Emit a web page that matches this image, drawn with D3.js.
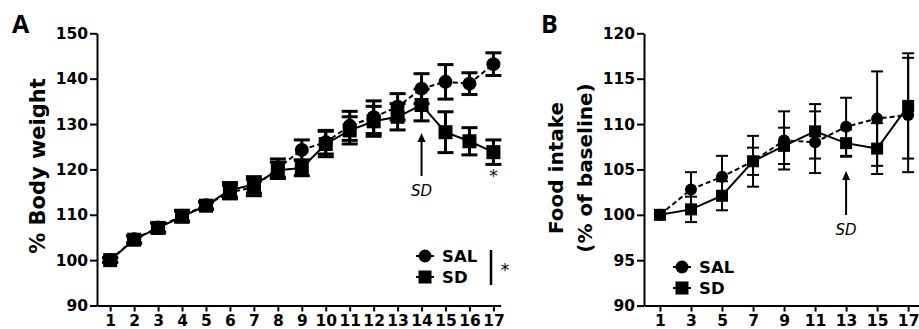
<!DOCTYPE html>
<html>
<head>
<meta charset="utf-8">
<script src="https://cdn.jsdelivr.net/npm/d3@7"></script>
<style>
  body { margin: 0; background: #fff; }
  svg { display: block; }
  .axis text { font-family: "DejaVu Sans", sans-serif; font-weight: bold; font-size: 15.5px; fill: #000; }
  .axis path, .axis line { stroke: #000; stroke-width: 2px; }
</style>
</head>
<body>
<svg width="919" height="329"></svg>
<script>
// panel A: % body weight, days 1..17
const daysA = [1, 2, 3, 4, 5, 6, 7, 8, 9, 10, 11, 12, 13, 14, 15, 16, 17];
const salA = [100, 104.6, 107.2, 109.8, 112.1, 115.0, 116.0, 120.3, 124.3, 126.0, 129.6, 131.5, 133.8, 137.8, 139.3, 138.9, 143.2];
const salAErr = [0.5, 0.8, 1.0, 1.2, 0.8, 1.5, 1.8, 2.0, 2.2, 2.6, 3.2, 3.6, 2.9, 3.3, 3.8, 2.4, 2.5];
const sdA = [100, 104.5, 107.1, 109.6, 112.0, 115.5, 116.6, 119.8, 120.3, 125.6, 128.6, 130.6, 131.6, 134.2, 128.2, 126.2, 123.8];
const sdAErr = [0.5, 0.8, 1.1, 1.2, 0.8, 1.6, 1.8, 1.8, 1.7, 2.8, 3.0, 3.3, 2.9, 3.5, 4.5, 3.0, 2.7];
const yTicksA = [90, 100, 110, 120, 130, 140, 150];

// panel B: food intake (% of baseline), odd days
const daysB = [1, 3, 5, 7, 9, 11, 13, 15, 17];
const salB = [100, 102.8, 104.2, 105.9, 108.2, 108.0, 109.7, 110.6, 111.0];
const salBErr = [0, 1.9, 2.3, 1.5, 3.2, 3.4, 3.2, 5.2, 6.3];
const sdB = [100, 100.6, 102.1, 105.9, 107.6, 109.2, 107.9, 107.3, 112.0];
const sdBErr = [0, 1.4, 1.6, 2.8, 2.0, 3.0, 1.5, 2.8, 5.8];
const yTicksB = [90, 95, 100, 105, 110, 115, 120];

const svg = d3.select('svg');
const font = '"DejaVu Sans", sans-serif';

function panel(opt) {
  const g = svg.append('g');
  const x = d3.scaleLinear().domain(opt.xDomain).range(opt.xRange);
  const y = d3.scaleLinear().domain(opt.yDomain).range(opt.yRange);

  g.append('g').attr('class', 'axis')
    .attr('transform', 'translate(0,' + opt.yRange[0] + ')')
    .call(d3.axisBottom(x).tickValues(opt.days).tickSize(6).tickSizeOuter(0).tickPadding(3).tickFormat(d3.format('d')));
  g.append('g').attr('class', 'axis')
    .attr('transform', 'translate(' + opt.xRange[0] + ',0)')
    .call(d3.axisLeft(y).tickValues(opt.yTicks).tickSize(7).tickSizeOuter(0).tickPadding(2));

  const series = [
    { v: opt.sal, e: opt.salErr, dash: '5,3', shape: 'circle' },
    { v: opt.sd, e: opt.sdErr, dash: null, shape: 'square' },
  ];

  // error bars first
  series.forEach(function(s) {
    const eb = g.append('g').attr('stroke', '#000').attr('stroke-width', opt.ebw);
    opt.days.forEach(function(d, i) {
      if (!s.e[i]) return;
      const cx = x(d), top = y(s.v[i] + s.e[i]), bot = y(s.v[i] - s.e[i]);
      eb.append('line').attr('x1', cx).attr('x2', cx).attr('y1', top).attr('y2', bot);
      eb.append('line').attr('x1', cx - opt.cap).attr('x2', cx + opt.cap).attr('y1', top).attr('y2', top);
      eb.append('line').attr('x1', cx - opt.cap).attr('x2', cx + opt.cap).attr('y1', bot).attr('y2', bot);
    });
  });

  series.forEach(function(s) {
    const line = d3.line().x(function(d, i) { return x(opt.days[i]); }).y(function(d) { return y(d); });
    g.append('path').datum(s.v).attr('d', line)
      .attr('fill', 'none').attr('stroke', '#000').attr('stroke-width', 2)
      .attr('stroke-dasharray', s.dash);
  });

  series.forEach(function(s) {
    const m = g.append('g');
    opt.days.forEach(function(d, i) {
      if (s.shape == 'circle')
        m.append('circle').attr('cx', x(d)).attr('cy', y(s.v[i])).attr('r', opt.r);
      else
        m.append('rect').attr('x', x(d) - opt.r).attr('y', y(s.v[i]) - opt.r)
          .attr('width', opt.r * 2).attr('height', opt.r * 2);
    });
  });

  // SD arrow
  const ax = x(opt.arrowDay);
  g.append('line').attr('x1', ax).attr('x2', ax).attr('y1', opt.arrowY[0] + 6).attr('y2', opt.arrowY[1])
    .attr('stroke', '#000').attr('stroke-width', 2);
  g.append('path')
    .attr('d', 'M' + ax + ',' + opt.arrowY[0] + 'l-4,9l8,0z');
  g.append('text').attr('x', ax).attr('y', opt.arrowY[1] + 20)
    .attr('text-anchor', 'middle').attr('font-family', font).attr('font-style', 'italic')
    .attr('font-size', 15).text('SD');

  // legend
  const lg = g.append('g').attr('transform', 'translate(' + opt.legend[0] + ',' + opt.legend[1] + ')');
  [['SAL', 'circle'], ['SD', 'square']].forEach(function(l, i) {
    const ly = i * 21;
    lg.append('line').attr('x1', -9).attr('x2', 9).attr('y1', ly).attr('y2', ly)
      .attr('stroke', '#000').attr('stroke-width', 2);
    if (l[1] == 'circle') lg.append('circle').attr('cy', ly).attr('r', 6.5);
    else lg.append('rect').attr('x', -6.5).attr('y', ly - 6.5).attr('width', 13).attr('height', 13);
    lg.append('text').attr('x', 17).attr('y', ly + 6)
      .attr('font-family', font).attr('font-weight', 'bold').attr('font-size', 16.5).text(l[0]);
  });

  g.append('text').attr('x', opt.letter[0]).attr('y', opt.letter[1])
    .attr('font-family', '"Open Sans", sans-serif').attr('font-weight', 'bold').attr('font-size', 25)
    .text(opt.name);

  return { g: g, x: x, y: y, lg: lg };
}

const A = panel({
  name: 'A', letter: [12, 33],
  days: daysA, sal: salA, salErr: salAErr, sd: sdA, sdErr: sdAErr, yTicks: yTicksA,
  xDomain: [0.45, 17.3], xRange: [97, 500.6],
  yDomain: [90, 150], yRange: [305.5, 33.3],
  r: 7, cap: 8, ebw: 3,
  arrowDay: 14, arrowY: [133, 176],
  legend: [425, 256],
});
A.g.append('text').attr('transform', 'translate(45,166) rotate(-90)')
  .attr('text-anchor', 'middle').attr('font-family', font).attr('font-weight', 'bold')
  .attr('font-size', 21).text('% Body weight');
A.g.append('text').attr('x', A.x(17)).attr('y', A.y(sdA[16] - sdAErr[16]) + 18)
  .attr('text-anchor', 'middle').attr('font-family', font).attr('font-size', 17).text('*');
A.g.append('line').attr('x1', 491).attr('x2', 491).attr('y1', 250).attr('y2', 285)
  .attr('stroke', '#000').attr('stroke-width', 2.5);
A.g.append('text').attr('x', 505).attr('y', 276).attr('text-anchor', 'middle')
  .attr('font-family', font).attr('font-size', 17).text('*');

const B = panel({
  name: 'B', letter: [541, 33],
  days: daysB, sal: salB, salErr: salBErr, sd: sdB, sdErr: sdBErr, yTicks: yTicksB,
  xDomain: [-0.03, 17.7], xRange: [644, 919],
  yDomain: [90, 120], yRange: [305.6, 33.3],
  r: 6, cap: 6, ebw: 2,
  arrowDay: 13, arrowY: [171, 215],
  legend: [682, 267],
});
B.g.append('text').attr('transform', 'translate(563,168) rotate(-90)')
  .attr('text-anchor', 'middle').attr('font-family', font).attr('font-weight', 'bold')
  .attr('font-size', 20).text('Food intake');
B.g.append('text').attr('transform', 'translate(592,168) rotate(-90)')
  .attr('text-anchor', 'middle').attr('font-family', font).attr('font-weight', 'bold')
  .attr('font-size', 20).text('(% of baseline)');
</script>
</body>
</html>
